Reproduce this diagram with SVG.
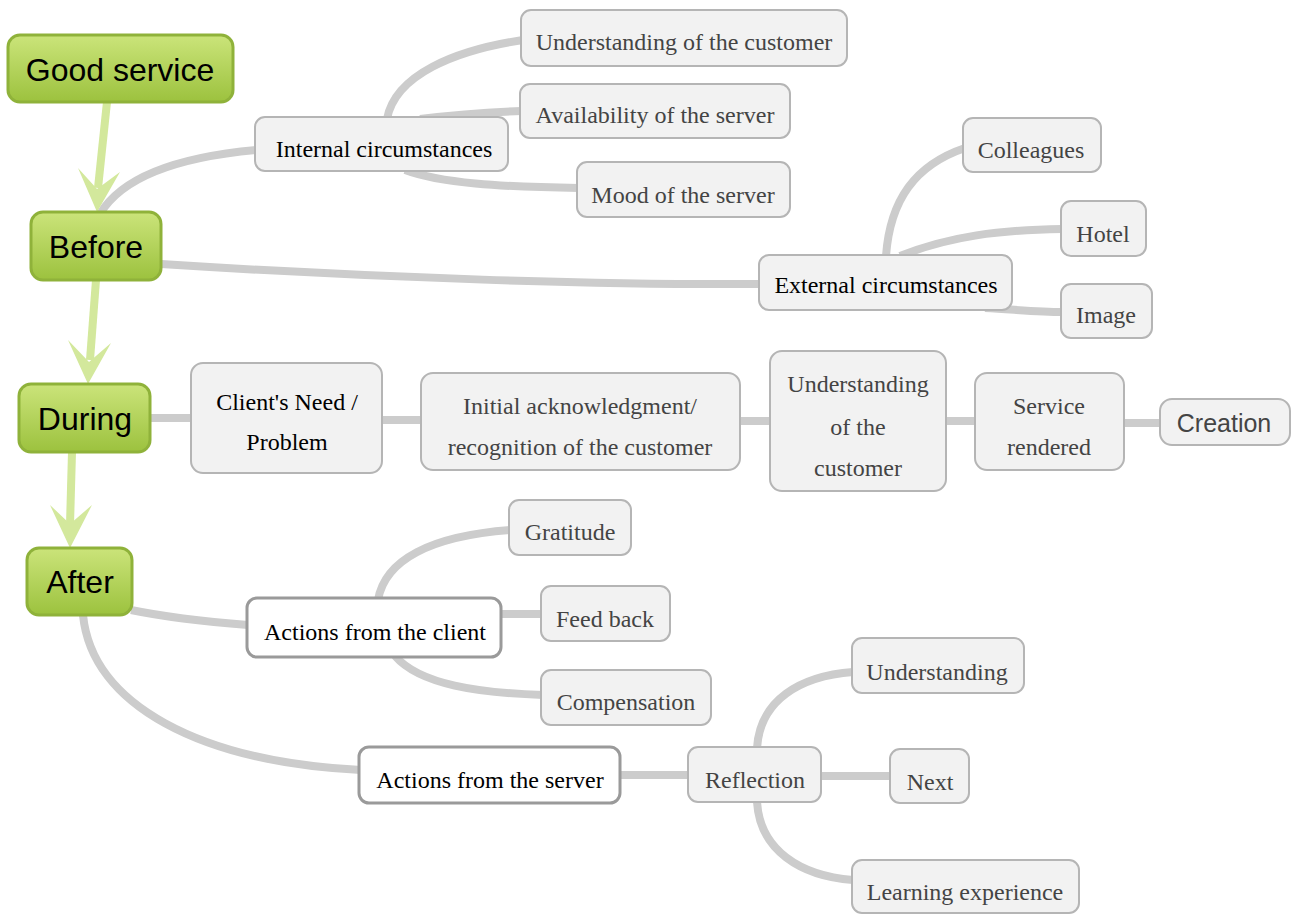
<svg xmlns="http://www.w3.org/2000/svg" width="1295" height="914" viewBox="0 0 1295 914">
<defs>
<linearGradient id="gg" x1="0" y1="0" x2="0" y2="1">
<stop offset="0" stop-color="#cbe47a"/>
<stop offset="1" stop-color="#9cc23e"/>
</linearGradient>
</defs>
<style>
.c{fill:none;stroke:#cccccc;stroke-width:8;stroke-linecap:butt}
.g{fill:url(#gg);stroke:#8fb23a;stroke-width:3}
.gt{font-family:"Liberation Sans",Arial,sans-serif;font-size:32px;fill:#000;text-anchor:middle}
.n{fill:#f2f2f2;stroke:#b5b5b5;stroke-width:2}
.w{fill:#ffffff;stroke:#9a9a9a;stroke-width:3}
.t{font-family:"Liberation Serif","Times New Roman",serif;font-size:24px;fill:#444;text-anchor:middle}
.k{font-family:"Liberation Serif","Times New Roman",serif;font-size:24px;fill:#000;text-anchor:middle}
.s{font-family:"Liberation Sans",Arial,sans-serif;font-size:25px;fill:#444;text-anchor:middle}
.ga{fill:none;stroke:#d3e89c;stroke-width:8}
.gh{fill:#d3e89c}
</style>
<rect width="1295" height="914" fill="#ffffff"/>
<g id="connectors">
<path class="c" d="M100,214 C125,172 190,156 257,150"/>
<path class="c" d="M161,264 C380,278 600,285 760,284"/>
<path class="c" d="M387,119 C395,75 455,50 523,40"/>
<path class="c" d="M420,119 Q470,113 522,111"/>
<path class="c" d="M405,170 C440,183 500,187 579,188"/>
<path class="c" d="M886,256 C890,200 915,165 965,148"/>
<path class="c" d="M900,256 C950,236 1000,230 1062,229"/>
<path class="c" d="M985,308 C1020,310 1040,312 1062,312"/>
<path class="c" d="M150,418 L192,418"/>
<path class="c" d="M382,420 L422,420"/>
<path class="c" d="M740,421 L771,421"/>
<path class="c" d="M946,421 L976,421"/>
<path class="c" d="M1124,423 L1161,423"/>
<path class="c" d="M131,610 C170,618 210,622 248,625"/>
<path class="c" d="M83,615 C92,705 200,762 361,770"/>
<path class="c" d="M378,600 C385,560 430,536 511,530"/>
<path class="c" d="M500,614 L542,614"/>
<path class="c" d="M395,656 C420,685 480,693 543,695"/>
<path class="c" d="M620,775 L689,775"/>
<path class="c" d="M757,748 C760,700 800,676 853,672"/>
<path class="c" d="M821,776 L891,776"/>
<path class="c" d="M757,802 C760,850 800,876 853,880"/>
<line class="ga" x1="107" y1="102" x2="98" y2="188"/>
<polygon class="gh" points="78,168 97,189 120,172 97,212"/>
<line class="ga" x1="96" y1="280" x2="90" y2="360"/>
<polygon class="gh" points="68,340 89,362 111,343 88,384"/>
<line class="ga" x1="72" y1="452" x2="70" y2="525"/>
<polygon class="gh" points="50,505 70,524 92,505 70,548"/>
</g>
<g id="good-service"><rect class="g" x="8" y="35" width="225" height="67" rx="12"/><text class="gt" x="120" y="81">Good service</text></g>
<g id="before"><rect class="g" x="31" y="212" width="130" height="68" rx="12"/><text class="gt" x="96" y="258">Before</text></g>
<g id="during"><rect class="g" x="19" y="384" width="131" height="68" rx="12"/><text class="gt" x="85" y="430">During</text></g>
<g id="after"><rect class="g" x="27" y="548" width="105" height="67" rx="12"/><text class="gt" x="80" y="593">After</text></g>
<g id="internal"><rect class="n" x="255" y="117" width="253" height="54" rx="10"/><text class="k" x="384" y="157">Internal circumstances</text></g>
<g id="understanding-customer-top"><rect class="n" x="521" y="10" width="326" height="56" rx="10"/><text class="t" x="684" y="50">Understanding of the customer</text></g>
<g id="availability"><rect class="n" x="520" y="84" width="270" height="54" rx="10"/><text class="t" x="655" y="123">Availability of the server</text></g>
<g id="mood"><rect class="n" x="577" y="162" width="213" height="55" rx="10"/><text class="t" x="683" y="203">Mood of the server</text></g>
<g id="external"><rect class="n" x="759" y="255" width="253" height="55" rx="10"/><text class="k" x="886" y="293">External circumstances</text></g>
<g id="colleagues"><rect class="n" x="963" y="118" width="138" height="54" rx="10"/><text class="t" x="1031" y="158">Colleagues</text></g>
<g id="hotel"><rect class="n" x="1061" y="201" width="85" height="55" rx="10"/><text class="t" x="1103" y="242">Hotel</text></g>
<g id="image"><rect class="n" x="1061" y="284" width="91" height="54" rx="10"/><text class="t" x="1106" y="323">Image</text></g>
<g id="clients-need"><rect class="n" x="191" y="363" width="191" height="110" rx="12"/><text class="k" x="287" y="410">Client's Need /</text><text class="k" x="287" y="450">Problem</text></g>
<g id="initial"><rect class="n" x="421" y="373" width="319" height="97" rx="12"/><text class="t" x="580" y="414">Initial acknowledgment/</text><text class="t" x="580" y="455">recognition of the customer</text></g>
<g id="understanding-mid"><rect class="n" x="770" y="351" width="176" height="140" rx="12"/><text class="t" x="858" y="392">Understanding</text><text class="t" x="858" y="435">of the</text><text class="t" x="858" y="476">customer</text></g>
<g id="service-rendered"><rect class="n" x="975" y="373" width="149" height="97" rx="12"/><text class="t" x="1049" y="414">Service</text><text class="t" x="1049" y="455">rendered</text></g>
<g id="creation"><rect class="n" x="1160" y="399" width="130" height="46" rx="12"/><text class="s" x="1224" y="432">Creation</text></g>
<g id="actions-client"><rect class="w" x="247" y="598" width="254" height="59" rx="10"/><text class="k" x="375" y="640">Actions from the client</text></g>
<g id="gratitude"><rect class="n" x="509" y="500" width="122" height="55" rx="10"/><text class="t" x="570" y="540">Gratitude</text></g>
<g id="feedback"><rect class="n" x="541" y="586" width="129" height="55" rx="10"/><text class="t" x="605" y="627">Feed back</text></g>
<g id="compensation"><rect class="n" x="541" y="670" width="170" height="55" rx="10"/><text class="t" x="626" y="710">Compensation</text></g>
<g id="actions-server"><rect class="w" x="359" y="747" width="261" height="56" rx="10"/><text class="k" x="490" y="788">Actions from the server</text></g>
<g id="reflection"><rect class="n" x="688" y="747" width="133" height="55" rx="10"/><text class="t" x="755" y="788">Reflection</text></g>
<g id="understanding-bottom"><rect class="n" x="852" y="638" width="172" height="55" rx="10"/><text class="t" x="937" y="680">Understanding</text></g>
<g id="next"><rect class="n" x="890" y="749" width="79" height="54" rx="10"/><text class="t" x="930" y="790">Next</text></g>
<g id="learning"><rect class="n" x="852" y="860" width="227" height="53" rx="10"/><text class="t" x="965" y="900">Learning experience</text></g>
</svg>
